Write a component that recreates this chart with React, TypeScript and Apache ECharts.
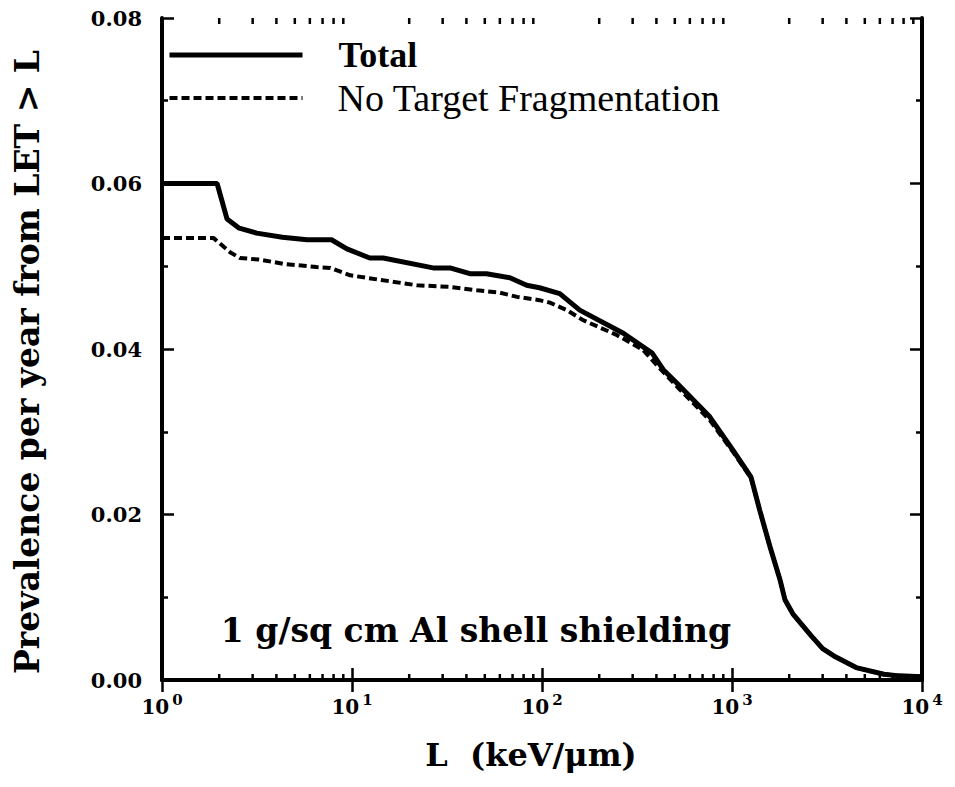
import React, { useEffect, useRef } from "react";
import * as echarts from "echarts";

const SERIES_NAMES = ["Total", "No Target Fragmentation"];

const TOTAL_L = [1, 1.95, 2.2, 2.55, 3.15, 4.3, 5.8, 7.8, 9.4, 12.4, 14.6, 26.7, 32.8, 41.7, 51, 67.8, 83, 97, 124, 158, 268, 380, 435, 512, 764, 1010, 1260, 1400, 1585, 1790, 1900, 2090, 2600, 3000, 3500, 4500, 6300, 7600, 10000];
const TOTAL_P = [0.06, 0.06, 0.0557, 0.0546, 0.054, 0.0535, 0.0532, 0.0532, 0.0521, 0.051, 0.051, 0.0498, 0.0498, 0.0491, 0.0491, 0.0486, 0.0477, 0.0474, 0.0467, 0.0447, 0.0419, 0.0395, 0.0375, 0.0359, 0.0318, 0.0278, 0.0245, 0.0205, 0.0161, 0.0121, 0.0097, 0.008, 0.0054, 0.0038, 0.0028, 0.0015, 0.0007, 0.0005, 0.0004];

const NTF_L = [1, 1.87, 2.28, 2.57, 3.28, 4.33, 6.5, 7.7, 9.8, 14.6, 22, 32.8, 45.5, 60, 74, 97, 110, 135, 164, 247, 340, 400, 512, 764, 1010, 1260, 1400, 1585, 1790, 1900, 2090, 2600, 3000, 3500, 4500, 6300, 7600, 10000];
const NTF_P = [0.0534, 0.0534, 0.0517, 0.051, 0.0508, 0.0503, 0.0499, 0.0498, 0.0489, 0.0483, 0.0477, 0.0475, 0.0471, 0.0468, 0.0463, 0.0459, 0.0456, 0.0447, 0.0435, 0.0417, 0.0399, 0.0381, 0.0355, 0.0314, 0.0276, 0.0244, 0.0205, 0.0161, 0.0121, 0.0097, 0.008, 0.0054, 0.0038, 0.0028, 0.0015, 0.0007, 0.0005, 0.0004];

const MINOR_X_TICKS = [2, 3, 4, 5, 6, 7, 8, 9, 20, 30, 40, 50, 60, 70, 80, 90, 200, 300, 400, 500, 600, 700, 800, 900, 2000, 3000, 4000, 5000, 6000, 7000, 8000, 9000];

const X_TITLE = "L  (keV/\u03bcm)";
const Y_TITLE = "Prevalence per year from LET > L";
const ANNOTATION = "1 g/sq cm Al shell shielding";

const LEGEND_FONT = "Liberation Serif";
const WIDE_FONT = "DejaVu Serif";

export default function App() {
  const ref = useRef<HTMLDivElement>(null);
  useEffect(() => {
    const chart = echarts.init(ref.current!, null, { renderer: "svg" });
    const pair = (xs: number[], ys: number[]) => xs.map((x, i) => [x, ys[i]]);
    const axisLine = { show: true, lineStyle: { color: "#000", width: 4 } };
    const majorTick = { show: true, inside: true, length: 12, lineStyle: { color: "#000", width: 2.5 } };
    const minorTick = { show: true, splitNumber: 2, length: 6, lineStyle: { color: "#000", width: 2.5 } };
    const option: any = {
      animation: false,
      backgroundColor: "#fff",
      grid: { left: 162, right: 33, top: 18, bottom: 107 },
      legend: {
        data: [
          { name: SERIES_NAMES[0], lineStyle: { width: 5, color: "#000", type: "solid" } },
          { name: SERIES_NAMES[1], lineStyle: { width: 4, color: "#000", type: [8, 4] } },
        ],
        orient: "vertical",
        left: 162,
        top: 32,
        itemWidth: 133,
        itemHeight: 12,
        itemGap: 6,
        selectedMode: false,
        itemStyle: { color: "rgba(0,0,0,0)", borderColor: "rgba(0,0,0,0)", borderWidth: 0, opacity: 0 },
        formatter: (name: string) => (name === "Total" ? `{t|${name}}` : `{n|${name}}`),
        textStyle: {
          color: "#000",
          rich: {
            t: { fontFamily: LEGEND_FONT, fontWeight: "bold", fontSize: 36, padding: [0, 0, 0, 31], color: "#000" },
            n: { fontFamily: LEGEND_FONT, fontSize: 38, padding: [0, 0, 0, 30], color: "#000" },
          },
        },
      },
      xAxis: [
        {
          type: "log",
          min: 1,
          max: 10000,
          logBase: 10,
          position: "bottom",
          axisLine,
          axisTick: majorTick,
          splitLine: { show: false },
          axisLabel: {
            margin: 12,
            formatter: (v: number) => `{b|10}{s|${Math.round(Math.log10(v))}}`,
            rich: {
              b: { fontFamily: WIDE_FONT, fontWeight: "bold", fontSize: 20, color: "#000", verticalAlign: "bottom" },
              s: { fontFamily: WIDE_FONT, fontWeight: "bold", fontSize: 15, color: "#000", verticalAlign: "bottom", padding: [0, 0, 10, 3] },
            },
          },
          name: X_TITLE,
          nameLocation: "middle",
          nameGap: 59,
          nameTextStyle: { fontFamily: WIDE_FONT, fontWeight: "bold", fontSize: 32, color: "#000", padding: [0, 22, 0, 0] },
        },
        {
          type: "log",
          min: 1,
          max: 10000,
          logBase: 10,
          position: "top",
          axisLine,
          axisTick: majorTick,
          axisLabel: { show: false },
          splitLine: { show: false },
        },
      ],
      yAxis: [
        {
          type: "value",
          min: 0,
          max: 0.08,
          interval: 0.02,
          position: "left",
          axisLine,
          axisTick: majorTick,
          minorTick,
          splitLine: { show: false },
          axisLabel: {
            margin: 20,
            formatter: (v: number) => v.toFixed(2),
            fontFamily: WIDE_FONT,
            fontWeight: "bold",
            fontSize: 21,
            color: "#000",
          },
          name: Y_TITLE,
          nameLocation: "middle",
          nameGap: 118,
          nameTextStyle: { fontFamily: WIDE_FONT, fontWeight: "bold", fontSize: 33, color: "#000", padding: [0, 26, 0, 0] },
        },
        {
          type: "value",
          min: 0,
          max: 0.08,
          interval: 0.02,
          position: "right",
          axisLine,
          axisTick: majorTick,
          minorTick,
          splitLine: { show: false },
          axisLabel: { show: false },
        },
      ],
      series: [
        {
          name: SERIES_NAMES[0],
          type: "line",
          data: pair(TOTAL_L, TOTAL_P),
          showSymbol: false,
          symbol: "none",
          lineStyle: { color: "#000", width: 5 },
          itemStyle: { color: "#000" },
          z: 3,
        },
        {
          name: SERIES_NAMES[1],
          type: "line",
          data: pair(NTF_L, NTF_P),
          showSymbol: false,
          symbol: "none",
          lineStyle: { color: "#000", width: 4, type: [8, 4] },
          itemStyle: { color: "#000" },
          z: 2,
        },
        {
          name: "minor-ticks",
          type: "custom",
          data: MINOR_X_TICKS.map((v) => [v, 0]),
          clip: false,
          silent: true,
          renderItem: (_params: any, api: any) => {
            const v = api.value(0);
            const b = api.coord([v, 0]);
            const t = api.coord([v, 0.08]);
            return {
              type: "group",
              children: [
                { type: "line", shape: { x1: b[0], y1: b[1], x2: b[0], y2: b[1] - 6 }, style: { stroke: "#000", lineWidth: 2.5 } },
                { type: "line", shape: { x1: t[0], y1: t[1], x2: t[0], y2: t[1] + 6 }, style: { stroke: "#000", lineWidth: 2.5 } },
              ],
            };
          },
        },
      ],
      graphic: [
        {
          type: "text",
          x: 476,
          y: 630,
          style: {
            text: ANNOTATION,
            fontFamily: WIDE_FONT,
            fontWeight: "bold",
            fontSize: 33,
            fill: "#000",
            textAlign: "center",
            textVerticalAlign: "middle",
          },
        },
      ],
    };
    chart.setOption(option);
    return () => chart.dispose();
  }, []);
  return <div ref={ref} style={{ position: "fixed", left: 0, top: 0, width: 955, height: 787 }} />;
}
